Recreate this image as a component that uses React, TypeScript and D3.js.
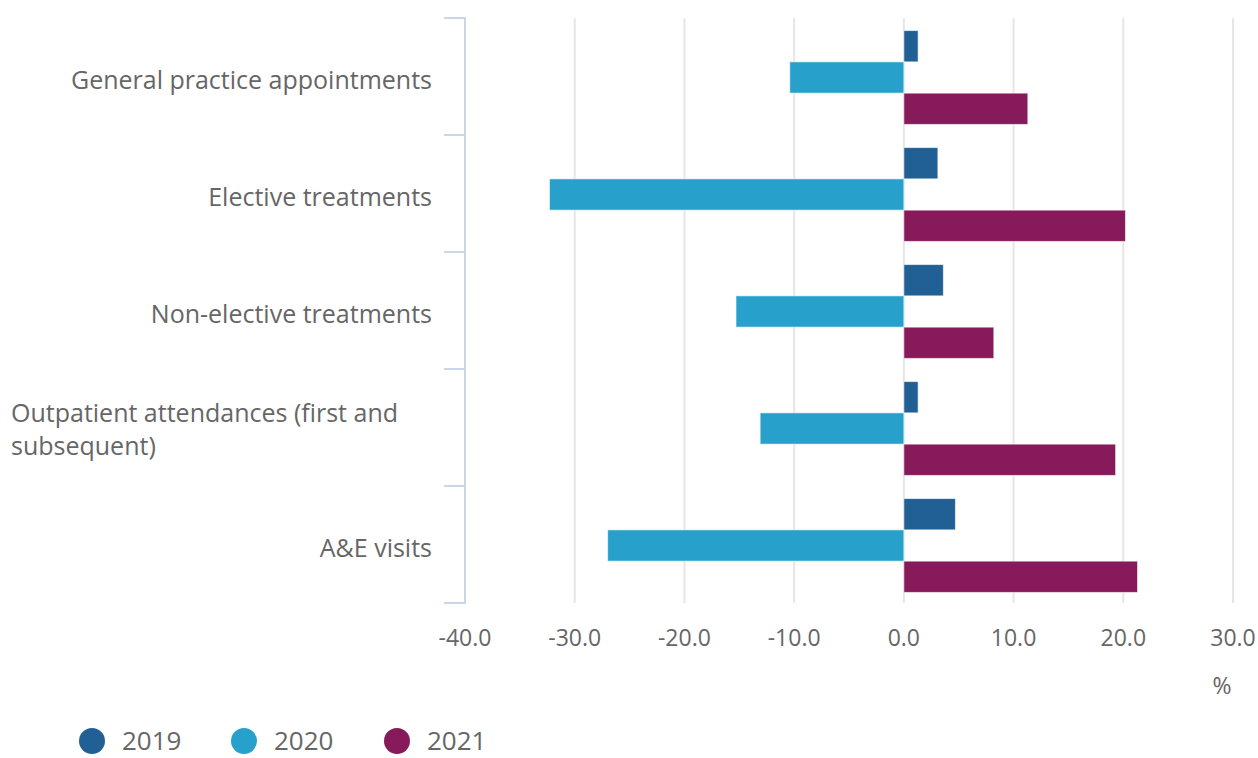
import React from "react";
import * as d3 from "d3";

const categories = [
  "General practice appointments",
  "Elective treatments",
  "Non-elective treatments",
  "Outpatient attendances (first and subsequent)",
  "A&E visits",
];
const categoryLines = [
  ["General practice appointments"],
  ["Elective treatments"],
  ["Non-elective treatments"],
  ["Outpatient attendances (first and", "subsequent)"],
  ["A&E visits"],
];
const seriesNames = ["2019", "2020", "2021"];
const values2019 = [1.3, 3.1, 3.6, 1.3, 4.7];
const values2020 = [-10.4, -32.3, -15.3, -13.1, -27.0];
const values2021 = [11.3, 20.2, 8.2, 19.3, 21.3];
const xTicks = [-40, -30, -20, -10, 0, 10, 20, 30];
const colors = ["#206095", "#27a0cc", "#871a5b"];

const W = 1258;
const H = 758;
const font = "'Open Sans', sans-serif";
const textColor = "#666666";

export default function App() {
  const x = d3.scaleLinear().domain([-40, 30]).range([465, 1233]);
  const y = d3.scaleBand<string>().domain(categories).range([18, 603]).padding(0);
  const inner = d3
    .scaleBand<string>()
    .domain(seriesNames)
    .range([1, y.bandwidth() + 1])
    .paddingInner(0)
    .paddingOuter(0.37);
  const series = [values2019, values2020, values2021];
  const tickYs = [...categories.map((c) => y(c)!), 603];
  const fmt = (t: number) => t.toFixed(1);

  return (
    <svg
      width={W}
      height={H}
      style={{ position: "absolute", left: 0, top: 0, background: "#fff" }}
    >
      {xTicks.slice(1).map((t) => (
        <line
          key={"g" + t}
          x1={x(t)}
          x2={x(t)}
          y1={18}
          y2={603}
          stroke="#e6e6e6"
          strokeWidth={2}
        />
      ))}
      {series.map((vals, si) =>
        categories.map((c, ci) => {
          const v = vals[ci];
          const x0 = x(Math.min(0, v));
          const x1 = x(Math.max(0, v));
          return (
            <rect
              key={si + "-" + ci}
              x={x0}
              y={y(c)! + inner(seriesNames[si])!}
              width={x1 - x0}
              height={inner.bandwidth()}
              fill={colors[si]}
              stroke="#ffffff"
              strokeOpacity={0.6}
              strokeWidth={1}
            />
          );
        })
      )}
      <line x1={465} x2={465} y1={17} y2={604} stroke="#ccd6eb" strokeWidth={2} />
      {tickYs.map((ty, i) => (
        <line key={"t" + i} x1={444} x2={465} y1={ty} y2={ty} stroke="#ccd6eb" strokeWidth={2} />
      ))}
      {categoryLines.map((lines, ci) => {
        const cy = y(categories[ci])! + y.bandwidth() / 2;
        if (lines.length === 1) {
          return (
            <text
              key={"c" + ci}
              x={432}
              y={cy + 12.5}
              textAnchor="end"
              fontFamily={font}
              fontSize={25}
              fill={textColor}
            >
              {lines[0]}
            </text>
          );
        }
        return (
          <text key={"c" + ci} fontFamily={font} fontSize={25} fill={textColor}>
            {lines.map((l, li) => (
              <tspan key={li} x={11} y={cy - 6 + li * 33}>
                {l}
              </tspan>
            ))}
          </text>
        );
      })}
      {xTicks.map((t) => (
        <text
          key={"x" + t}
          x={x(t)}
          y={646}
          textAnchor="middle"
          fontFamily={font}
          fontSize={23}
          fill={textColor}
        >
          {fmt(t)}
        </text>
      ))}
      <text x={1222} y={694} textAnchor="middle" fontFamily={font} fontSize={23} fill={textColor}>
        %
      </text>
      {seriesNames.map((s, i) => {
        const lx = [92, 244, 397][i];
        return (
          <g key={"l" + s}>
            <circle cx={lx} cy={741} r={13} fill={colors[i]} />
            <text x={lx + 30} y={750} fontFamily={font} fontSize={26} fill={textColor}>
              {s}
            </text>
          </g>
        );
      })}
    </svg>
  );
}
